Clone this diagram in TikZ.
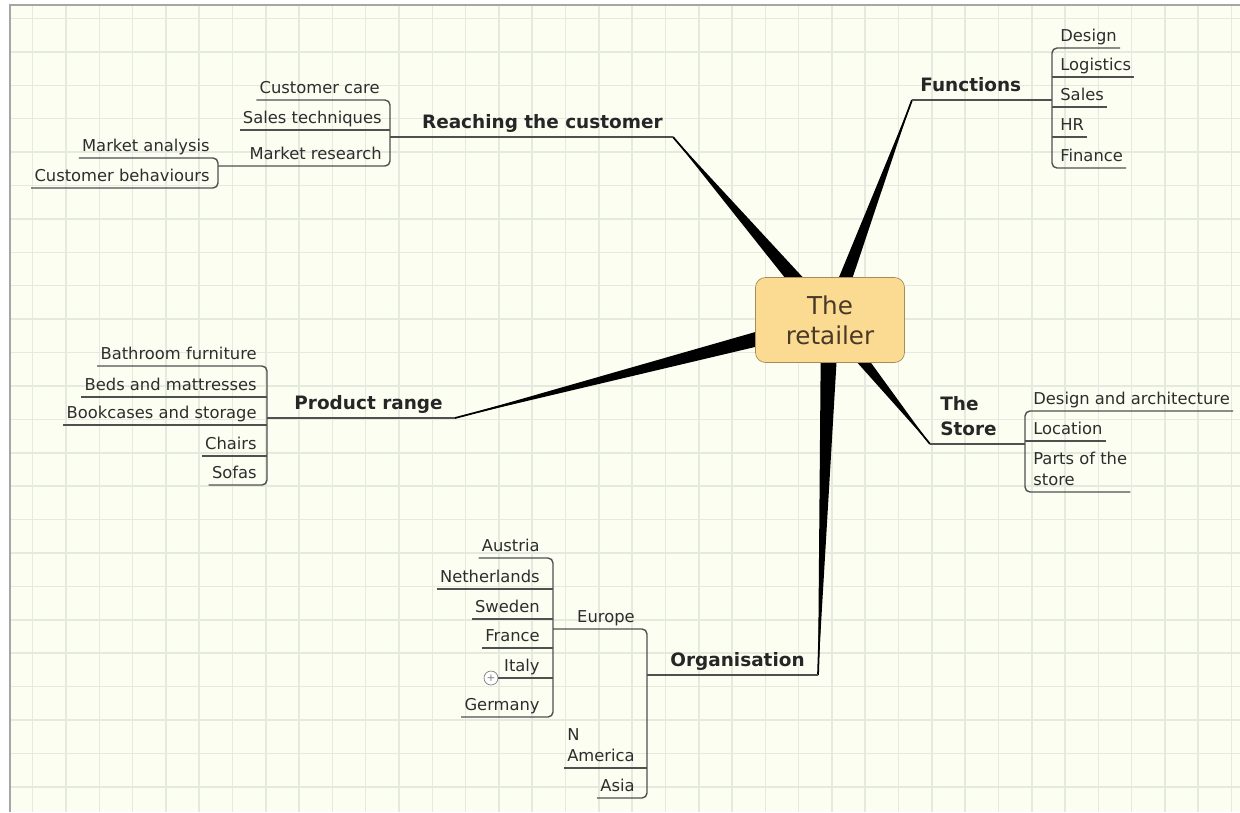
\documentclass[tikz,border=0pt]{standalone}
\usepackage{fontspec}
\setmainfont{DejaVu Sans}
\usetikzlibrary{calc}

\definecolor{paper}{RGB}{253,254,242}
\definecolor{gridcol}{RGB}{228,234,222}
\definecolor{twigcol}{RGB}{80,80,80}
\definecolor{leafcol}{RGB}{45,45,45}
\definecolor{hubfill}{RGB}{251,218,146}
\definecolor{hubdraw}{RGB}{168,140,88}
\definecolor{hubtext}{RGB}{72,58,38}

\newcommand{\leaffont}{\fontsize{9.3}{12.2}\selectfont}
\newcommand{\topicfont}{\fontsize{10.5}{14.2}\selectfont\bfseries}
\newcommand{\hubfont}{\fontsize{14}{17}\selectfont}

\begin{document}
\begin{tikzpicture}[x=0.02cm, y=-0.02cm,
  leaf/.style={font=\leaffont, text=leafcol, text depth=0pt, inner xsep=0.06cm, inner ysep=0.12cm, align=left},
  leafL/.style={leaf, anchor=south east},
  leafR/.style={leaf, anchor=south west},
  topic/.style={font=\topicfont, text=black!85, text depth=0pt, inner xsep=0.06cm, inner ysep=0.17cm, align=left},
  twig/.style={draw=twigcol, line width=0.8pt, rounded corners=0.1cm},
  spoke/.style={fill=black},
  gridline/.style={draw=gridcol, line width=0.9pt},
  expander/.style={circle, draw=gray, fill=white, inner sep=0pt, minimum size=0.28cm, text=gray, font=\fontsize{6}{6}\selectfont}]

% paper and grid
\useasboundingbox (0,0) rectangle (1240,812);
\fill[white] (0,0) rectangle (1240,812);
\fill[paper] (10,5) rectangle (1240,812);
\foreach \i in {0,...,36} \draw[gridline] ({32.7+33.3*\i},5) -- ({32.7+33.3*\i},812);
\foreach \j in {0,...,23} \draw[gridline] (10,{18.5+33.4*\j}) -- (1240,{18.5+33.4*\j});
\draw[gray!70, line width=1pt] (10,812) -- (10,5) -- (1240,5);

% tips and brackets
\coordinate (ctr) at (830,320);
\coordinate (reachTip) at (673,137);
\coordinate (funcTip) at (912,100);
\coordinate (prodTip) at (455,418);
\coordinate (storeTip) at (930,444);
\coordinate (orgTip) at (818,675);
\coordinate (reachBr) at (390,0);
\coordinate (researchBr) at (218,0);
\coordinate (funcBr) at (1052,0);
\coordinate (prodBr) at (267,0);
\coordinate (storeBr) at (1025,0);
\coordinate (orgBr) at (647,0);
\coordinate (eurBr) at (553,0);

% spokes
\foreach \t/\w in {reachTip/0.18cm, prodTip/0.18cm, orgTip/0.18cm, funcTip/0.16cm, storeTip/0.16cm}{
  \fill[spoke] ($(ctr)!\w!90:(\t)$) -- (\t) -- ($(ctr)!\w!-90:(\t)$) -- cycle;
  \draw[line width=1pt] (ctr) -- (\t);
}

% hub
\node[draw=hubdraw, fill=hubfill, rounded corners=0.2cm, minimum width=2.98cm, minimum height=1.7cm,
      font=\hubfont, text=hubtext, align=center] (hub) at (830,320) {The\\retailer};

% Reaching the customer
\node[topic, anchor=south east] (reach) at (666,137) {Reaching the customer};
\node[leafL] (care) at (383,100) {Customer care};
\node[leafL] (sales) at (385,130) {Sales techniques};
\node[leafL] (research) at (385,166) {Market research};
\node[leafL] (analysis) at (213,158) {Market analysis};
\node[leafL] (behav) at (213,188) {Customer behaviours};
\draw[twig] (reachTip) -- (reachTip -| reachBr);
\draw[twig] (care.south west) -- (care.south west -| reachBr) -- (research.south west -| reachBr) -- (research.south west -| researchBr);
\draw[twig] (sales.south west) -- (sales.south west -| reachBr);
\draw[twig] (analysis.south west) -- (analysis.south west -| researchBr) -- (behav.south west -| researchBr) -- (behav.south west);

% Functions
\node[topic, anchor=south west] (func) at (917,100) {Functions};
\node[leafR] (design) at (1057,48) {Design};
\node[leafR] (logistics) at (1057,77) {Logistics};
\node[leafR] (fsales) at (1057,107) {Sales};
\node[leafR] (hr) at (1057,137) {HR};
\node[leafR] (finance) at (1057,168) {Finance};
\draw[twig] (funcTip) -- (funcTip -| funcBr);
\draw[twig] (design.south east) -- (design.south west -| funcBr) -- (finance.south west -| funcBr) -- (finance.south east);
\foreach \n in {logistics, fsales, hr} \draw[twig] (\n.south west -| funcBr) -- (\n.south east);

% Product range
\node[topic, anchor=south east] (prod) at (446,418) {Product range};
\node[leafL] (bath) at (260,366) {Bathroom furniture};
\node[leafL] (beds) at (260,397) {Beds and mattresses};
\node[leafL] (books) at (260,425) {Bookcases and storage};
\node[leafL] (chairs) at (260,456) {Chairs};
\node[leafL] (sofas) at (260,485) {Sofas};
\draw[twig] (prodTip) -- (prodTip -| prodBr);
\draw[twig] (bath.south west) -- (bath.south west -| prodBr) -- (sofas.south west -| prodBr) -- (sofas.south west);
\foreach \n in {beds, books, chairs} \draw[twig] (\n.south west) -- (\n.south west -| prodBr);

% The Store
\node[topic, anchor=south west] (store) at (937,444) {The\\Store};
\node[leafR] (archi) at (1030,411) {Design and architecture};
\node[leafR] (location) at (1030,441) {Location};
\node[leafR] (parts) at (1030,492) {Parts of the\\store};
\draw[twig] (storeTip) -- (storeTip -| storeBr);
\draw[twig] (archi.south east) -- (archi.south west -| storeBr) -- (parts.south west -| storeBr) -- (parts.south east);
\draw[twig] (location.south west -| storeBr) -- (location.south east);

% Organisation
\node[topic, anchor=south east] (org) at (808,675) {Organisation};
\node[leafL] (europe) at (638,629) {Europe};
\node[leafL] (namerica) at (638,768) {N\\America};
\node[leafL] (asia) at (638,798) {Asia};
\draw[twig] (orgTip) -- (orgTip -| orgBr);
\draw[twig] (europe.south west -| eurBr) -- (europe.south west -| orgBr) -- (asia.south west -| orgBr) -- (asia.south west);
\draw[twig] (namerica.south west) -- (namerica.south west -| orgBr);

% Europe
\node[leafL] (austria) at (543,558) {Austria};
\node[leafL] (nl) at (543,589) {Netherlands};
\node[leafL] (sweden) at (543,619) {Sweden};
\node[leafL] (france) at (543,648) {France};
\node[leafL] (italy) at (543,678) {Italy};
\node[leafL] (germany) at (543,717) {Germany};
\draw[twig] (austria.south west) -- (austria.south west -| eurBr) -- (germany.south west -| eurBr) -- (germany.south west);
\foreach \n in {nl, sweden, france} \draw[twig] (\n.south west) -- (\n.south west -| eurBr);
\node[expander] (italyPlus) at (491,678) {+};
\draw[twig] (italyPlus.east) -- (italy.south west -| eurBr);
\end{tikzpicture}
\end{document}
